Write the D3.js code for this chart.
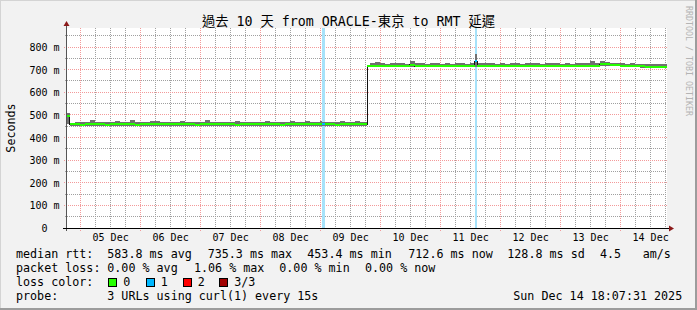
<!DOCTYPE html>
<html>
<head>
<meta charset="utf-8" />
<style>

body {
    margin: 0;
    background-color: #fff;
}

svg text {
    font-family: "DejaVu Sans Mono", "Noto Sans CJK TC", monospace;
    fill: #000;
}

</style>
<title>smokeping : 10 days</title>
</head>

<body>
<div id="chart"></div>

<script src="https://cdn.jsdelivr.net/npm/d3@7"></script>
<script>

// sample start times, in hours after the left edge of the graph
var hours = [
    0,
    1, 3, 5, 7, 9, 11, 13, 15, 17, 19,
    21, 23, 25, 27, 29, 31, 33, 35, 37, 39,
    41, 43, 45, 47, 49, 51, 53, 55, 57, 59,
    61, 63, 65, 67, 69, 71, 73, 75, 77, 79,
    81, 83, 85, 87, 89, 91, 93, 95, 97, 99,
    101, 102, 103, 105, 107, 109, 111, 113, 115, 117, 119,
    120,
    121, 123, 125, 127, 129, 131, 133, 135, 137, 139,
    141, 143, 145, 147, 149, 151, 153, 155, 157, 159,
    161, 163, 164, 165, 167, 169, 171, 173, 175, 177, 179,
    181, 183, 185, 187, 189, 191, 193, 195, 197, 199,
    201, 203, 205, 207, 209, 211, 213, 215, 217, 219,
    221, 223, 225, 227, 229, 231, 233, 235, 237, 239
];

// median rtt, ms
var median = [
    497,
    458, 458, 457, 458, 459, 458, 458, 457, 458, 458,
    458, 459, 458, 456, 458, 458, 458, 459, 458, 458,
    458, 458, 459, 458, 458, 457, 458, 458, 458, 459,
    458, 458, 458, 457, 458, 458, 458, 458, 459, 458,
    458, 458, 457, 458, 458, 458, 459, 458, 458, 458,
    458, 459, 458, 458, 457, 458, 459, 458, 458, 458, 458,
    716,
    717, 717, 716, 716, 716, 716, 716, 716, 721, 716,
    716, 716, 716, 716, 715, 716, 716, 716, 716, 716,
    716, 738, 716, 716, 716, 716, 716, 716, 716, 716, 715,
    716, 716, 716, 716, 716, 716, 716, 716, 716, 716,
    716, 716, 716, 717, 716, 718, 723, 723, 721, 721,
    718, 718, 718, 717, 714, 713, 713, 713, 713, 713
];

// smoke, lowest and highest ping of each sample, ms
var smokeLo = [
    460,
    452, 451, 452, 452, 450, 452, 452, 451, 452, 449,
    452, 452, 451, 452, 452, 450, 452, 452, 451, 452,
    452, 451, 452, 449, 452, 452, 451, 452, 452, 451,
    452, 452, 450, 452, 452, 451, 452, 452, 452, 451,
    452, 451, 452, 452, 452, 451, 452, 450, 452, 452,
    451, 452, 452, 452, 452, 451, 452, 452, 451, 452, 452,
    712,
    711, 711, 711, 710, 711, 711, 710, 711, 712, 711,
    711, 711, 710, 711, 710, 711, 711, 711, 710, 711,
    711, 712, 711, 711, 711, 711, 710, 711, 711, 711, 710,
    711, 711, 710, 711, 711, 711, 710, 711, 711, 711,
    711, 711, 711, 712, 711, 713, 716, 717, 715, 715,
    713, 713, 712, 712, 709, 708, 708, 708, 708, 708
];

var smokeHi = [
    510,
    466, 470, 467, 468, 476, 468, 468, 467, 469, 474,
    468, 467, 476, 470, 470, 469, 471, 472, 468, 467,
    470, 468, 472, 467, 469, 468, 470, 476, 467, 469,
    468, 469, 467, 475, 468, 470, 467, 469, 468, 471,
    470, 469, 468, 467, 474, 469, 470, 471, 470, 468,
    473, 470, 470, 469, 468, 475, 470, 468, 471, 470, 469,
    722,
    730, 732, 728, 727, 728, 729, 728, 727, 737, 729,
    728, 727, 729, 728, 726, 728, 727, 729, 728, 727,
    730, 768, 729, 728, 729, 728, 727, 728, 727, 729, 728,
    727, 728, 729, 728, 727, 728, 729, 728, 727, 728,
    727, 728, 729, 730, 736, 731, 738, 735, 730, 731,
    728, 727, 729, 726, 724, 724, 723, 725, 724, 724
];

// samples where one ping of three was lost
var lossHours = [102, 163];

var yTicks = [0, 100, 200, 300, 400, 500, 600, 700, 800];
var yMinor = [50, 150, 250, 350, 450, 550, 650, 750, 850];

var title = "過去 10 天 from ORACLE-東京 to RMT 延遲";
var rttRow = ["median rtt:", "583.8 ms avg", "735.3 ms max", "453.4 ms min", "712.6 ms now", "128.8 ms sd", "4.5", "am/s"];
var lossRow = ["packet loss:", "0.00 % avg", "1.06 % max", "0.00 % min", "0.00 % now"];
var lossLabels = ["0", "1", "2", "3/3"];
var probeRow = ["probe:", "3 URLs using curl(1) every 15s"];
var stamp = "Sun Dec 14 18:07:31 2025";

var width = 697, height = 310;
var gLeft = 67, gRight = 667, gTop = 28, gBottom = 228;
var HOUR = 3600e3;
var t0 = Date.UTC(2025, 11, 4, 18, 45);
var t1 = t0 + 240 * HOUR;

var lossColors = ["#26ff00", "#00b8ff", "#ff0000", "#a00000"];

var svg = d3.select("#chart").append("svg")
    .attr("width", width)
    .attr("height", height);

var x = d3.scaleUtc().domain([t0, t1]).range([gLeft, gRight]);
var y = d3.scaleLinear().domain([0, 884]).range([gBottom, gTop]);

function tx(h) { return x(t0 + h * HOUR); }
function px(v) { return Math.floor(v) + 0.5; }

// frame
svg.append("rect").attr("width", width).attr("height", height).attr("fill", "#f2f2f2");
svg.append("rect").attr("x", 0).attr("y", 0).attr("width", width).attr("height", 1).attr("fill", "#d4d4d4");
svg.append("rect").attr("x", 0).attr("y", 0).attr("width", 1).attr("height", height).attr("fill", "#d4d4d4");
svg.append("rect").attr("x", 0).attr("y", height - 2).attr("width", width).attr("height", 2).attr("fill", "#9c9c9c");
svg.append("rect").attr("x", width - 2).attr("y", 0).attr("width", 2).attr("height", height).attr("fill", "#9c9c9c");

svg.append("rect")
    .attr("x", gLeft).attr("y", gTop)
    .attr("width", gRight - gLeft).attr("height", gBottom - gTop)
    .attr("fill", "#fff");

// grid, drawn as one dotted path per kind
var dayLines = d3.utcDay.range(t0, t1);
var quarterLines = d3.utcHour.range(t0, t1).filter(function(d) {
    return d.getUTCHours() % 6 == 0 && d.getUTCHours() != 0;
});

function gridPath(vert, horiz, below, leftOut) {
    var p = d3.path();
    vert.forEach(function(d) {
        var xx = px(x(d));
        p.moveTo(xx, gTop);
        p.lineTo(xx, gBottom + below);
    });
    horiz.forEach(function(v) {
        var yy = px(y(v));
        p.moveTo(gLeft - leftOut, yy);
        p.lineTo(gRight, yy);
    });
    return p.toString();
}

svg.append("path")
    .attr("d", gridPath(quarterLines, yMinor, 2, 2))
    .attr("fill", "none")
    .attr("stroke", "#a0a0a0")
    .attr("stroke-width", 1)
    .attr("stroke-dasharray", "1,1");

svg.append("path")
    .attr("d", gridPath(dayLines, yTicks.slice(1), 3, 3))
    .attr("fill", "none")
    .attr("stroke", "#f39a9a")
    .attr("stroke-width", 1)
    .attr("stroke-dasharray", "1,1");

// loss bars
svg.selectAll("rect.lossbar").data(lossHours).enter().append("rect")
    .attr("class", "lossbar")
    .attr("x", function(d) { return tx(d); })
    .attr("width", function(d) { return tx(d + 1) - tx(d); })
    .attr("y", gTop).attr("height", gBottom - gTop)
    .attr("fill", "#a6e2fa")
    .attr("shape-rendering", "crispEdges");

// smoke
var samples = hours.map(function(h, i) {
    return {
        start: h,
        end: i + 1 < hours.length ? hours[i + 1] : 240,
        median: median[i],
        lo: smokeLo[i],
        hi: smokeHi[i],
        loss: lossHours.indexOf(h) >= 0 ? 1 : 0
    };
});

svg.append("g").attr("shape-rendering", "crispEdges")
    .selectAll("rect").data(samples).enter().append("rect")
    .attr("x", function(d) { return tx(d.start); })
    .attr("width", function(d) { return tx(d.end) - tx(d.start); })
    .attr("y", function(d) { return y(d.hi); })
    .attr("height", function(d) { return y(d.lo) - y(d.hi); })
    .attr("fill", "#707070");

// median: dark step line, then loss coloured pieces
var stepPoints = samples.map(function(d) { return [tx(d.start), y(d.median)]; });
stepPoints.push([tx(240), y(median[median.length - 1])]);

svg.append("path")
    .attr("d", d3.line().curve(d3.curveStepAfter)(stepPoints))
    .attr("fill", "none")
    .attr("stroke", "#111")
    .attr("stroke-width", 1)
    .attr("shape-rendering", "crispEdges");

svg.append("g").selectAll("line").data(samples).enter().append("line")
    .attr("x1", function(d) { return tx(d.start); })
    .attr("x2", function(d) { return tx(d.end); })
    .attr("y1", function(d) { return y(d.median); })
    .attr("y2", function(d) { return y(d.median); })
    .attr("stroke", function(d) { return lossColors[d.loss]; })
    .attr("stroke-width", 2)
    .attr("shape-rendering", "crispEdges");

// axes lines and arrows
svg.append("line").attr("x1", gLeft - 0.5).attr("x2", gLeft - 0.5).attr("y1", gTop - 3).attr("y2", gBottom + 3)
    .attr("stroke", "#555").attr("shape-rendering", "crispEdges");
svg.append("line").attr("x1", gLeft - 4).attr("x2", gRight + 2).attr("y1", gBottom + 0.5).attr("y2", gBottom + 0.5)
    .attr("stroke", "#000").attr("shape-rendering", "crispEdges");
svg.append("path").attr("d", "M" + (gLeft - 0.5) + ",21 L" + (gLeft - 3.5) + ",26 L" + (gLeft + 2.5) + ",26 Z")
    .attr("fill", "#8b1a1a");
svg.append("path").attr("d", "M674," + (gBottom + 0.5) + " L669," + (gBottom - 2.5) + " L669," + (gBottom + 3.5) + " Z")
    .attr("fill", "#8b1a1a");

// axis labels
var yAxis = svg.append("g")
    .attr("transform", "translate(" + gLeft + ",0)")
    .call(d3.axisLeft(y).tickValues(yTicks).tickSize(0).tickPadding(7.5)
        .tickFormat(function(d) { return d ? d + " m" : "0  "; }));
yAxis.select(".domain").remove();
yAxis.selectAll("text")
    .attr("font-family", null).attr("font-size", "10px").attr("dy", "0.35em")
    .style("white-space", "pre");

var noons = dayLines.map(function(d) { return new Date(+d + 12 * HOUR); });
var xAxis = svg.append("g")
    .attr("transform", "translate(0," + gBottom + ")")
    .call(d3.axisBottom(x).tickValues(noons).tickSize(0).tickPadding(6)
        .tickFormat(d3.utcFormat("%d %b")));
xAxis.select(".domain").remove();
xAxis.selectAll("text").attr("font-family", null).attr("font-size", "10px");

svg.append("text")
    .attr("transform", "translate(15," + ((gTop + gBottom) / 2) + ") rotate(-90)")
    .attr("text-anchor", "middle")
    .attr("font-size", "11.7px")
    .text("Seconds");

svg.append("text")
    .attr("x", width / 2).attr("y", 26)
    .attr("text-anchor", "middle")
    .attr("font-size", "13.3px")
    .text(title);

svg.append("text")
    .attr("transform", "translate(686,6) rotate(90)")
    .attr("font-size", "8.3px")
    .style("fill", "#b4b4b4")
    .text("RRDTOOL / TOBI OETIKER");

// legend
var legendFont = "11.7px";
var rttX = [16, 107.3, 207.7, 307.3, 408.3, 507.3, 600, 642.7];
var lossX = [16, 107.3, 194, 279.3, 365];

function row(texts, xs, baseline) {
    svg.append("g").selectAll("text").data(texts).enter().append("text")
        .attr("x", function(d, i) { return xs[i]; })
        .attr("y", baseline)
        .attr("font-size", legendFont)
        .text(function(d) { return d; });
}

row(rttRow, rttX, 258.4);
row(lossRow, lossX, 272.4);
row(["loss color:"], [16], 286.4);
row(probeRow, [16, 107.3], 300.1);

var boxX = [108.3, 145.7, 182.7, 219.3];
var leg = svg.append("g").selectAll("g").data(lossLabels).enter().append("g");
leg.append("rect")
    .attr("x", function(d, i) { return boxX[i] + 0.5; })
    .attr("y", 278.5)
    .attr("width", 8).attr("height", 8)
    .attr("fill", function(d, i) { return lossColors[i]; })
    .attr("stroke", "#000")
    .attr("shape-rendering", "crispEdges");
leg.append("text")
    .attr("x", function(d, i) { return boxX[i] + 15; })
    .attr("y", 286.4)
    .attr("font-size", legendFont)
    .text(function(d) { return d; });

svg.append("text")
    .attr("x", 513.3).attr("y", 300.1)
    .attr("font-size", legendFont)
    .text(stamp);

</script>
</body>
</html>
